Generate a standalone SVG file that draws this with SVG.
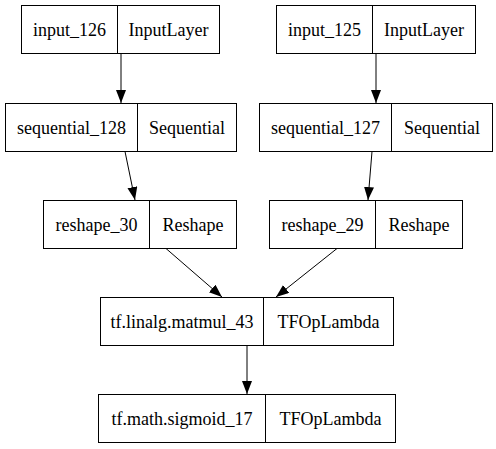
<svg xmlns="http://www.w3.org/2000/svg" width="496" height="449" viewBox="0 0 496 449">
<style>
.box{fill:#fff;stroke:#000;stroke-width:1}
text{font-family:'Liberation Serif','Times New Roman',serif;font-size:18px;text-anchor:middle;fill:#000}
.e{stroke:#000;stroke-width:1;fill:none}
</style>
<defs>
<marker id="ah" markerWidth="14" markerHeight="12" refX="13" refY="5" orient="auto" markerUnits="userSpaceOnUse">
<path d="M0,0 L13,5 L0,10 Z" fill="#000"/>
</marker>
</defs>
<rect width="496" height="449" fill="#fff"/>
<g id="input_126">
<rect class="box" x="21.5" y="5.5" width="198" height="48"/>
<line class="e" x1="117.5" y1="5.5" x2="117.5" y2="53.5"/>
<text x="69.5" y="36" font-family="Liberation Serif">input_126</text>
<text x="168.5" y="36" font-family="Liberation Serif">InputLayer</text>
</g>
<g id="input_125">
<rect class="box" x="276.5" y="5.5" width="199" height="48"/>
<line class="e" x1="372.5" y1="5.5" x2="372.5" y2="53.5"/>
<text x="324.5" y="36" font-family="Liberation Serif">input_125</text>
<text x="424" y="36" font-family="Liberation Serif">InputLayer</text>
</g>
<g id="sequential_128">
<rect class="box" x="5.5" y="103.5" width="231" height="48"/>
<line class="e" x1="137.5" y1="103.5" x2="137.5" y2="151.5"/>
<text x="71.5" y="134" font-family="Liberation Serif">sequential_128</text>
<text x="187" y="134" font-family="Liberation Serif">Sequential</text>
</g>
<g id="sequential_127">
<rect class="box" x="259.5" y="103.5" width="233" height="48"/>
<line class="e" x1="391.5" y1="103.5" x2="391.5" y2="151.5"/>
<text x="325.5" y="134" font-family="Liberation Serif">sequential_127</text>
<text x="442" y="134" font-family="Liberation Serif">Sequential</text>
</g>
<g id="reshape_30">
<rect class="box" x="43.5" y="200.5" width="193" height="48"/>
<line class="e" x1="149.5" y1="200.5" x2="149.5" y2="248.5"/>
<text x="96.5" y="231" font-family="Liberation Serif">reshape_30</text>
<text x="193" y="231" font-family="Liberation Serif">Reshape</text>
</g>
<g id="reshape_29">
<rect class="box" x="269.5" y="200.5" width="193" height="48"/>
<line class="e" x1="375.5" y1="200.5" x2="375.5" y2="248.5"/>
<text x="322.5" y="231" font-family="Liberation Serif">reshape_29</text>
<text x="419" y="231" font-family="Liberation Serif">Reshape</text>
</g>
<g id="tf_linalg_matmul_43">
<rect class="box" x="100.5" y="297.5" width="293" height="48"/>
<line class="e" x1="263.5" y1="297.5" x2="263.5" y2="345.5"/>
<text x="182" y="328" font-family="Liberation Serif">tf.linalg.matmul_43</text>
<text x="328.5" y="328" font-family="Liberation Serif">TFOpLambda</text>
</g>
<g id="tf_math_sigmoid_17">
<rect class="box" x="98.5" y="394.5" width="297" height="48"/>
<line class="e" x1="265.5" y1="394.5" x2="265.5" y2="442.5"/>
<text x="182" y="425" font-family="Liberation Serif">tf.math.sigmoid_17</text>
<text x="330.5" y="425" font-family="Liberation Serif">TFOpLambda</text>
</g>
<g id="connectors">
<line class="e" x1="121" y1="53.5" x2="121" y2="103" marker-end="url(#ah)"/>
<line class="e" x1="376" y1="53.5" x2="376" y2="103" marker-end="url(#ah)"/>
<line class="e" x1="125" y1="151.5" x2="135" y2="200" marker-end="url(#ah)"/>
<line class="e" x1="372" y1="151.5" x2="368" y2="200" marker-end="url(#ah)"/>
<line class="e" x1="166" y1="248.5" x2="222" y2="297" marker-end="url(#ah)"/>
<line class="e" x1="337" y1="248.5" x2="276" y2="297" marker-end="url(#ah)"/>
<line class="e" x1="247" y1="345.5" x2="247" y2="394" marker-end="url(#ah)"/>
</g>
</svg>
